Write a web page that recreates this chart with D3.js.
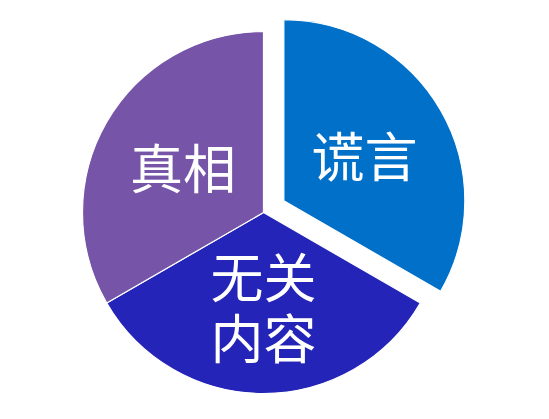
<!DOCTYPE html>
<html>
<head>
<meta charset="utf-8">
<script src="https://cdn.jsdelivr.net/npm/d3@7"></script>
<style>
  html, body { margin: 0; padding: 0; background: #ffffff; }
  svg { display: block; }
</style>
</head>
<body>
<svg id="chart" width="549" height="419"></svg>
<script>
// Data
const categories = ["谎言", "无关内容", "真相"];
const labelLines = [["谎言"], ["无关", "内容"], ["真相"]];
const values = [1, 1, 1];
const exploded = [true, false, false];
const colors = ["#0070C8", "#2424B8", "#7655A9"];

const width = 549, height = 419;
const cx = 263.5, cy = 212.5;
const radius = 181;
const explodeDist = 23.5;
const labelR = 93;
const fontSize = 53;
const lineGap = 61;

const svg = d3.select("#chart");
const g = svg.append("g").attr("transform", `translate(${cx},${cy})`);

const pie = d3.pie().sort(null).value(d => d.value).startAngle(0).endAngle(2 * Math.PI);
const data = categories.map((c, i) => ({ name: c, value: values[i], lines: labelLines[i], exploded: exploded[i], color: colors[i] }));
const arcs = pie(data);

const arc = d3.arc().innerRadius(0).outerRadius(radius);
const labelArc = d3.arc().innerRadius(labelR).outerRadius(labelR);

const slice = g.selectAll("g.slice").data(arcs).enter().append("g")
  .attr("class", "slice")
  .attr("transform", d => {
    if (!d.data.exploded) return null;
    const a = (d.startAngle + d.endAngle) / 2;
    return `translate(${explodeDist * Math.sin(a)},${-explodeDist * Math.cos(a)})`;
  });

slice.append("path")
  .attr("d", arc)
  .attr("fill", d => d.data.color)
  .attr("stroke", "#ffffff")
  .attr("stroke-width", 1.2)
  .attr("stroke-linejoin", "round");

slice.each(function(d) {
  const [lx, ly] = labelArc.centroid(d);
  const n = d.data.lines.length;
  const t = d3.select(this).append("text")
    .attr("text-anchor", "middle")
    .attr("font-family", "'Noto Sans CJK SC', 'Noto Sans', sans-serif")
    .attr("font-size", fontSize)
    .attr("fill", "#ffffff");
  d.data.lines.forEach((line, i) => {
    t.append("tspan")
      .attr("x", lx)
      .attr("y", ly + (i - (n - 1) / 2) * lineGap)
      .attr("dominant-baseline", "central")
      .text(line);
  });
});
</script>
</body>
</html>
